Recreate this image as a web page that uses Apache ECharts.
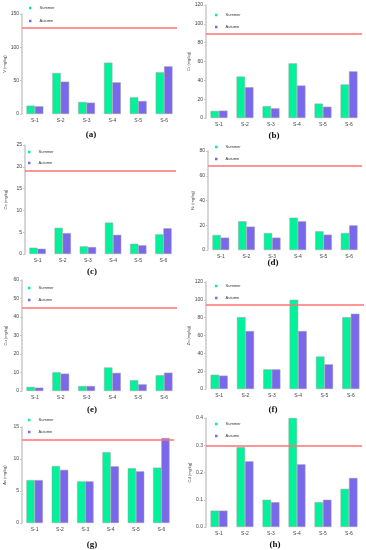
<!DOCTYPE html>
<html><head><meta charset="utf-8">
<script src="https://cdn.jsdelivr.net/npm/echarts@6/dist/echarts.min.js"></script>
<style>html,body{margin:0;padding:0;background:#fff}#c{width:366px;height:550px}</style>
</head><body><div id="c"></div>
<script>
const categories = ['S-1','S-2','S-3','S-4','S-5','S-6'];
const seasons = ['Summer','Autumn'];
const yNames = ['V (mg/kg)','Cr (mg/kg)','Co (mg/kg)','Ni (mg/kg)','Cu (mg/kg)','Zn (mg/kg)','As (mg/kg)','Cd (mg/kg)'];
const panelLabels = ['(a)','(b)','(c)','(d)','(e)','(f)','(g)','(h)'];
const vSummer  = [12.5, 61.5, 18, 77, 25, 62.5];
const vAutumn  = [11.5, 48.5, 17, 47.5, 19.5, 71.5];
const crSummer = [7.5, 44, 12.5, 58, 15.3, 35.6];
const crAutumn = [7.8, 32.7, 10.3, 34.5, 12, 49.5];
const coSummer = [1.44, 6.0, 1.75, 7.2, 2.35, 4.5];
const coAutumn = [1.2, 4.8, 1.6, 4.4, 2.0, 5.9];
const niSummer = [12.1, 23.2, 13.7, 26.1, 15.1, 13.7];
const niAutumn = [10, 18.9, 10, 23.2, 12.4, 19.9];
const cuSummer = [2.2, 10.1, 2.7, 12.7, 5.8, 8.5];
const cuAutumn = [1.8, 9.4, 2.7, 9.8, 3.6, 9.9];
const znSummer = [16, 80.6, 22, 100, 36.4, 80.6];
const znAutumn = [15, 65, 22, 65, 27.7, 84.4];
const asSummer = [6.7, 8.9, 6.5, 11.06, 8.55, 8.65];
const asAutumn = [6.7, 8.3, 6.5, 8.86, 8.07, 13.27];
const cdSummer = [0.06, 0.293, 0.10, 0.40, 0.091, 0.14];
const cdAutumn = [0.06, 0.241, 0.091, 0.23, 0.10, 0.18];
const limits = [130, 90, 19, 68, 45, 95, 13, 0.3];
const axisMax = [150, 120, 25, 80, 60, 120, 15, 0.4];
const axisStep = [50, 20, 5, 20, 10, 20, 5, 0.1];
const summerData = [vSummer, crSummer, coSummer, niSummer, cuSummer, znSummer, asSummer, cdSummer];
const autumnData = [vAutumn, crAutumn, coAutumn, niAutumn, cuAutumn, znAutumn, asAutumn, cdAutumn];

// layout (pixels)
const grids = [
  {left:22, top:14, width:155, height:100},
  {left:206, top:5, width:156, height:113},
  {left:25, top:145, width:151, height:109},
  {left:208, top:151, width:154, height:99},
  {left:22, top:280, width:155, height:111},
  {left:206, top:282, width:158, height:107},
  {left:22, top:427, width:152, height:96},
  {left:206, top:418, width:156, height:109}
];
const nameGaps = [14, 11, 17, 13, 14, 11, 15, 11];
const legendPos = [
  {left:29, top:5, gap:7}, {left:215, top:12, gap:6},
  {left:28, top:149, gap:5}, {left:215, top:144, gap:6},
  {left:28, top:285, gap:6}, {left:215, top:283, gap:6},
  {left:28, top:417, gap:6}, {left:215, top:421, gap:6}
];
const captionPos = [[91,135],[274,136],[92,272],[273,263],[92,410],[273,410],[92,545],[275,545]];

const colors = {Summer:'#00F29B', Autumn:'#7A68EC'};
const font = 'Liberation Sans, Arial, sans-serif';

const option = {
  animation:false,
  grid: grids.map(g => ({left:g.left, top:g.top, width:g.width, height:g.height, containLabel:false})),
  xAxis: grids.map((g,i) => ({
    type:'category', gridIndex:i, data:categories,
    axisLine:{show:false}, axisTick:{show:false},
    axisLabel:{fontSize:5, color:'#444', margin:4, fontFamily:font}
  })),
  yAxis: grids.map((g,i) => ({
    type:'value', gridIndex:i, min:0, max:axisMax[i], interval:axisStep[i],
    name:yNames[i], nameLocation:'middle', nameGap:nameGaps[i],
    nameTextStyle:{fontSize:4, color:'#444', fontFamily:font},
    axisLine:{show:true, lineStyle:{color:'#c8c8c8', width:1.5}},
    axisTick:{show:true, length:2, lineStyle:{color:'#c8c8c8'}},
    splitLine:{show:false},
    axisLabel:{fontSize:5, color:'#444', margin:3, fontFamily:font,
      formatter: v => i === 7 ? v.toFixed(1) : String(v)}
  })),
  legend: legendPos.map(p => ({
    data:seasons, orient:'vertical', left:p.left, top:p.top, itemGap:p.gap,
    itemWidth:2.5, itemHeight:2.5, icon:'rect', padding:0,
    itemStyle:{borderWidth:0},
    textStyle:{fontSize:4, color:'#333', fontFamily:font, lineHeight:6, padding:[0,0,0,3]}
  })),
  series: [],
  graphic: captionPos.map((p,i) => ({
    type:'text', x:p[0], y:p[1],
    style:{text:panelLabels[i], font:'bold 9px "Liberation Serif", "Times New Roman", serif', fill:'#111', textAlign:'center', textVerticalAlign:'middle'}
  }))
};

for (let i = 0; i < 8; i++) {
  option.series.push({
    type:'bar', name:'Summer', xAxisIndex:i, yAxisIndex:i, data:summerData[i],
    barGap:'0%', barCategoryGap:'35%',
    itemStyle:{color:colors.Summer, borderColor:'#a0a0a0', borderWidth:0.5},
    markLine:{silent:true, symbol:'none', label:{show:false},
      lineStyle:{color:'#ff7272', width:1.5, type:'solid'},
      data:[{yAxis:limits[i]}]}
  });
  option.series.push({
    type:'bar', name:'Autumn', xAxisIndex:i, yAxisIndex:i, data:autumnData[i],
    barGap:'0%', barCategoryGap:'35%',
    itemStyle:{color:colors.Autumn, borderColor:'#a0a0a0', borderWidth:0.5}
  });
}

const chart = echarts.init(document.getElementById('c'));
chart.setOption(option);
</script>
</body></html>
